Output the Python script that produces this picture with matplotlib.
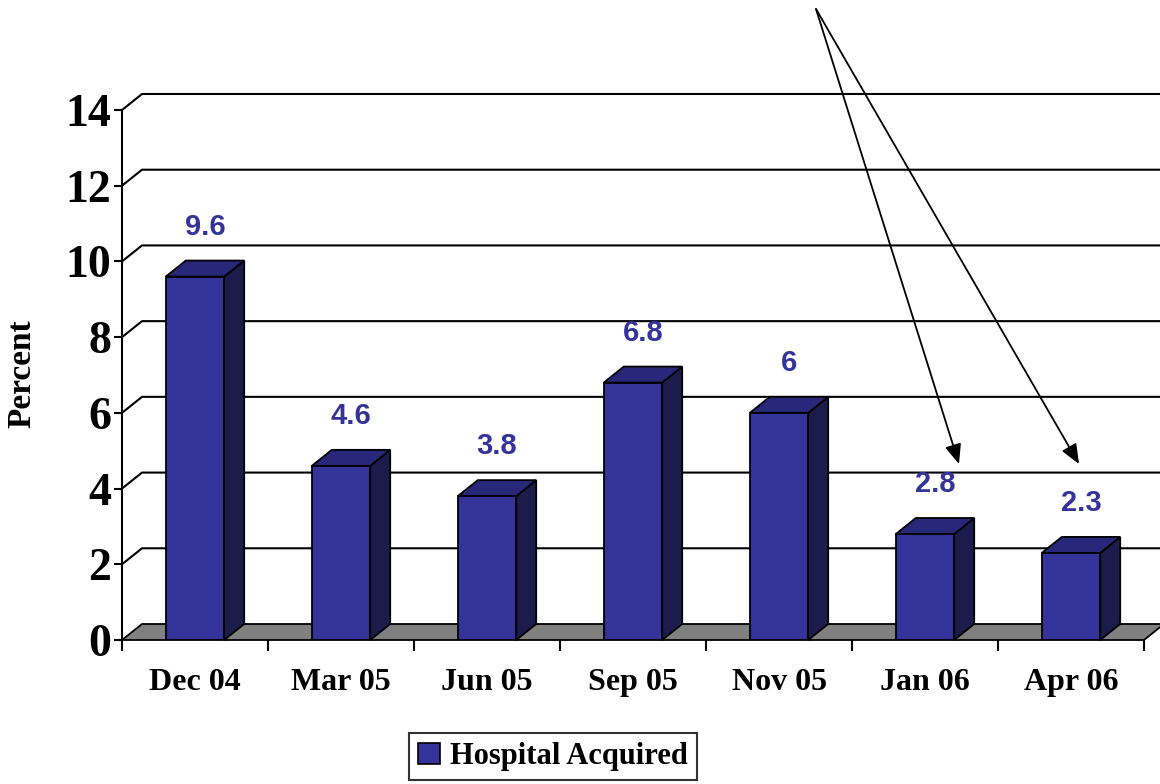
import numpy as np
import matplotlib
matplotlib.use("Agg")
import matplotlib.pyplot as plt
from matplotlib.patches import Polygon, Patch, FancyArrowPatch

categories = ["Dec 04", "Mar 05", "Jun 05", "Sep 05", "Nov 05", "Jan 06", "Apr 06"]
values = [9.6, 4.6, 3.8, 6.8, 6, 2.8, 2.3]
value_labels = ["9.6", "4.6", "3.8", "6.8", "6", "2.8", "2.3"]
yticks = [0, 2, 4, 6, 8, 10, 12, 14]
series_name = "Hospital Acquired"

FRONT = "#333399"
SIDE = "#1c1c4c"
TOP = "#28287a"
FLOOR = "#808080"
SERIF = "Liberation Serif"
SANS = "Liberation Sans"

W, H = 1160, 784
fig = plt.figure(figsize=(W / 100, H / 100), dpi=100)
ax = fig.add_axes([122 / W, (H - 640) / H, 1022 / W, 530 / H])

n = len(categories)
x = np.arange(n)
ax.set_xlim(-0.5, n - 0.5)
ax.set_ylim(0, 14)

# depth offset of the fake 3d look, in data units
dx = 20 / 146
dy = 16 / (530 / 14)

# back wall gridlines + left wall diagonals
for v in yticks[1:]:
    ax.plot([-0.5, -0.5 + dx, n - 0.5 + dx + 0.2], [v, v + dy, v + dy],
            color="black", lw=1.5, clip_on=False, zorder=1)

# floor
floor = Polygon([(-0.5, 0), (n - 0.5, 0), (n - 0.5 + dx, dy), (-0.5 + dx, dy)],
                closed=True, facecolor=FLOOR, edgecolor="black", lw=1.3,
                clip_on=False, zorder=2)
ax.add_patch(floor)

bars = ax.bar(x, values, width=0.4, color=FRONT, edgecolor="black", lw=1.3, zorder=4)
for rect in bars:
    x0, w, h = rect.get_x(), rect.get_width(), rect.get_height()
    side = Polygon([(x0 + w, 0), (x0 + w + dx, dy), (x0 + w + dx, h + dy), (x0 + w, h)],
                   closed=True, facecolor=SIDE, edgecolor="black", lw=1.3,
                   clip_on=False, zorder=3)
    top = Polygon([(x0, h), (x0 + dx, h + dy), (x0 + w + dx, h + dy), (x0 + w, h)],
                  closed=True, facecolor=TOP, edgecolor="black", lw=1.3,
                  clip_on=False, zorder=3)
    ax.add_patch(side)
    ax.add_patch(top)

for xi, v, lab in zip(x, values, value_labels):
    ax.annotate(lab, (xi + dx / 2, v), xytext=(0, 36), textcoords="offset points",
                ha="center", va="center", color=FRONT, fontsize=21,
                fontweight="bold", family=SANS, annotation_clip=False)

# axes
for s in ["top", "right", "bottom"]:
    ax.spines[s].set_visible(False)
ax.spines["left"].set_linewidth(1.5)
ax.set_yticks(yticks)
ax.set_yticklabels([str(t) for t in yticks], fontsize=33, fontweight="bold", family=SERIF)
ax.tick_params(axis="y", direction="out", length=6, width=1.5, pad=2)

ax.set_xticks(x)
ax.set_xticklabels(categories, fontsize=23, fontweight="bold", family=SERIF)
ax.set_xticks(np.arange(-0.5, n, 1), minor=True)
ax.tick_params(axis="x", which="major", length=0, pad=20)
ax.tick_params(axis="x", which="minor", direction="out", length=8, width=1.5)

fig.text(22 / W, 1 - 374 / H, "Percent", rotation=90, ha="center", va="center",
         fontsize=24, fontweight="bold", family=SERIF)

# legend
handle = Patch(facecolor=FRONT, edgecolor="black", lw=1.2)
leg = fig.legend([handle], [series_name], loc="upper left",
                 bbox_to_anchor=(409 / W, 1 - 733 / H), frameon=True, fancybox=False,
                 edgecolor="black", handlelength=0.7, handleheight=0.7,
                 handletextpad=0.35, borderpad=0.3, borderaxespad=0,
                 prop={"family": SERIF, "weight": "bold", "size": 22})
leg.get_frame().set_linewidth(1.5)

# arrows from the top pointing to the last two bars
for tip in [(959, H - 464), (1079, H - 464)]:
    fig.add_artist(FancyArrowPatch(
        (816, H - 9), tip, transform=None, arrowstyle="-|>,head_length=12,head_width=5",
        color="black", lw=1.3, mutation_scale=1, shrinkA=0, shrinkB=0))

fig.savefig("out.png", dpi=100)
